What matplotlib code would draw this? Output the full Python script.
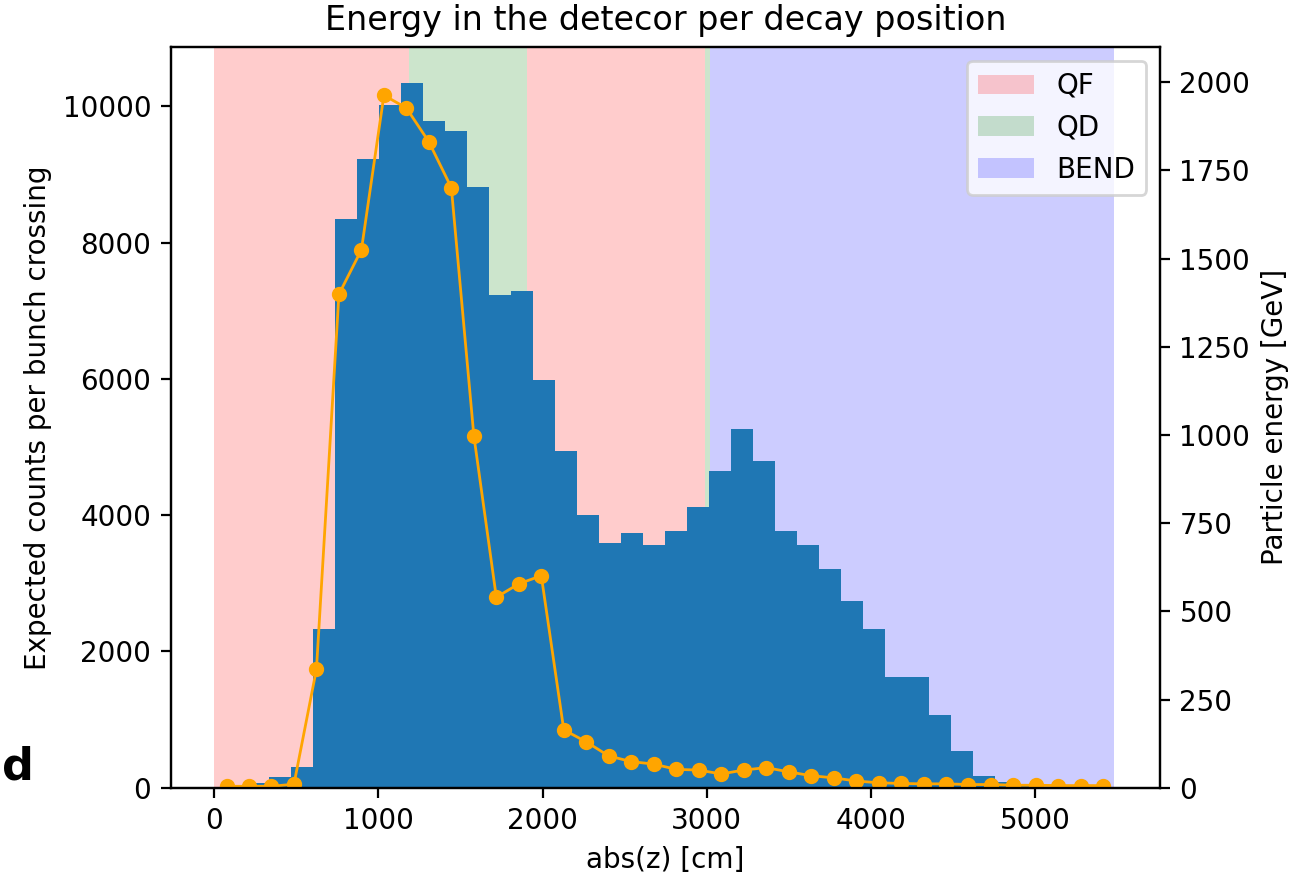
"""Energy deposited in the detector versus decay position along the beamline."""
import matplotlib
matplotlib.use("Agg")
import matplotlib.pyplot as plt
import numpy as np

# magnet layout along |z| [cm]
magnets = ["QF", "QD", "QF", "QD", "BEND"]
magnet_start = [0, 1188, 1905, 2988, 3022]
magnet_end = [1188, 1905, 2988, 3022, 5480]
magnet_color = {"QF": "red", "QD": "green", "BEND": "blue"}

# decay-position histogram (40 bins between the min and max |z|)
z_range = (69, 5421)
counts = [20, 70, 153, 308, 2329, 8345, 9224, 10018, 10345, 9787,
          9641, 8819, 7237, 7293, 5978, 4945, 4006, 3595, 3737, 3566,
          3767, 4123, 4647, 5263, 4798, 3767, 3566, 3209, 2744, 2333,
          1629, 1629, 1071, 540, 170, 90, 20, 8, 3, 1]

# mean particle energy reaching the detector [GeV]
energy_z = np.linspace(75, 5415, 40)
energy = [4, 4, 4, 10, 336, 1399, 1525, 1963, 1927, 1831,
          1701, 998, 540, 578, 601, 164, 130, 90, 74, 67,
          52, 50, 39, 50, 57, 45, 34, 28, 19, 14,
          12, 11, 11, 9, 9, 7, 7, 6, 6, 6]

fig = plt.figure(figsize=(6.48, 4.365), dpi=200)
ax = fig.add_axes([0.1317, 0.0977, 0.7634, 0.8485])

edges = np.linspace(z_range[0], z_range[1], len(counts) + 1)
ax.hist(edges[:-1], bins=edges, weights=counts, color="#1f77b4", zorder=2)

seen = set()
for name, a, b in zip(magnets, magnet_start, magnet_end):
    ax.axvspan(a, b, color=magnet_color[name], alpha=0.2, lw=0, zorder=1,
               label=None if name in seen else name)
    seen.add(name)

ax.set_xlim(-265, 5760)
ax.set_ylim(0, 10870)
ax.set_xlabel("abs(z) [cm]")
ax.set_ylabel("Expected counts per bunch crossing")
ax.set_title("Energy in the detecor per decay position")
ax.legend(loc="upper right")

ax2 = ax.twinx()
ax2.plot(energy_z, energy, "o-", color="orange", lw=1, ms=4.5)
ax2.set_ylim(0, 2100)
ax2.set_ylabel("Particle energy [GeV]")

# stray glyph in the lower-left margin
fig.text(2 / 1296, 1 - 780 / 873, "d", fontsize=16, fontweight="bold",
         ha="left", va="baseline")

fig.savefig("out.png", dpi=200)
